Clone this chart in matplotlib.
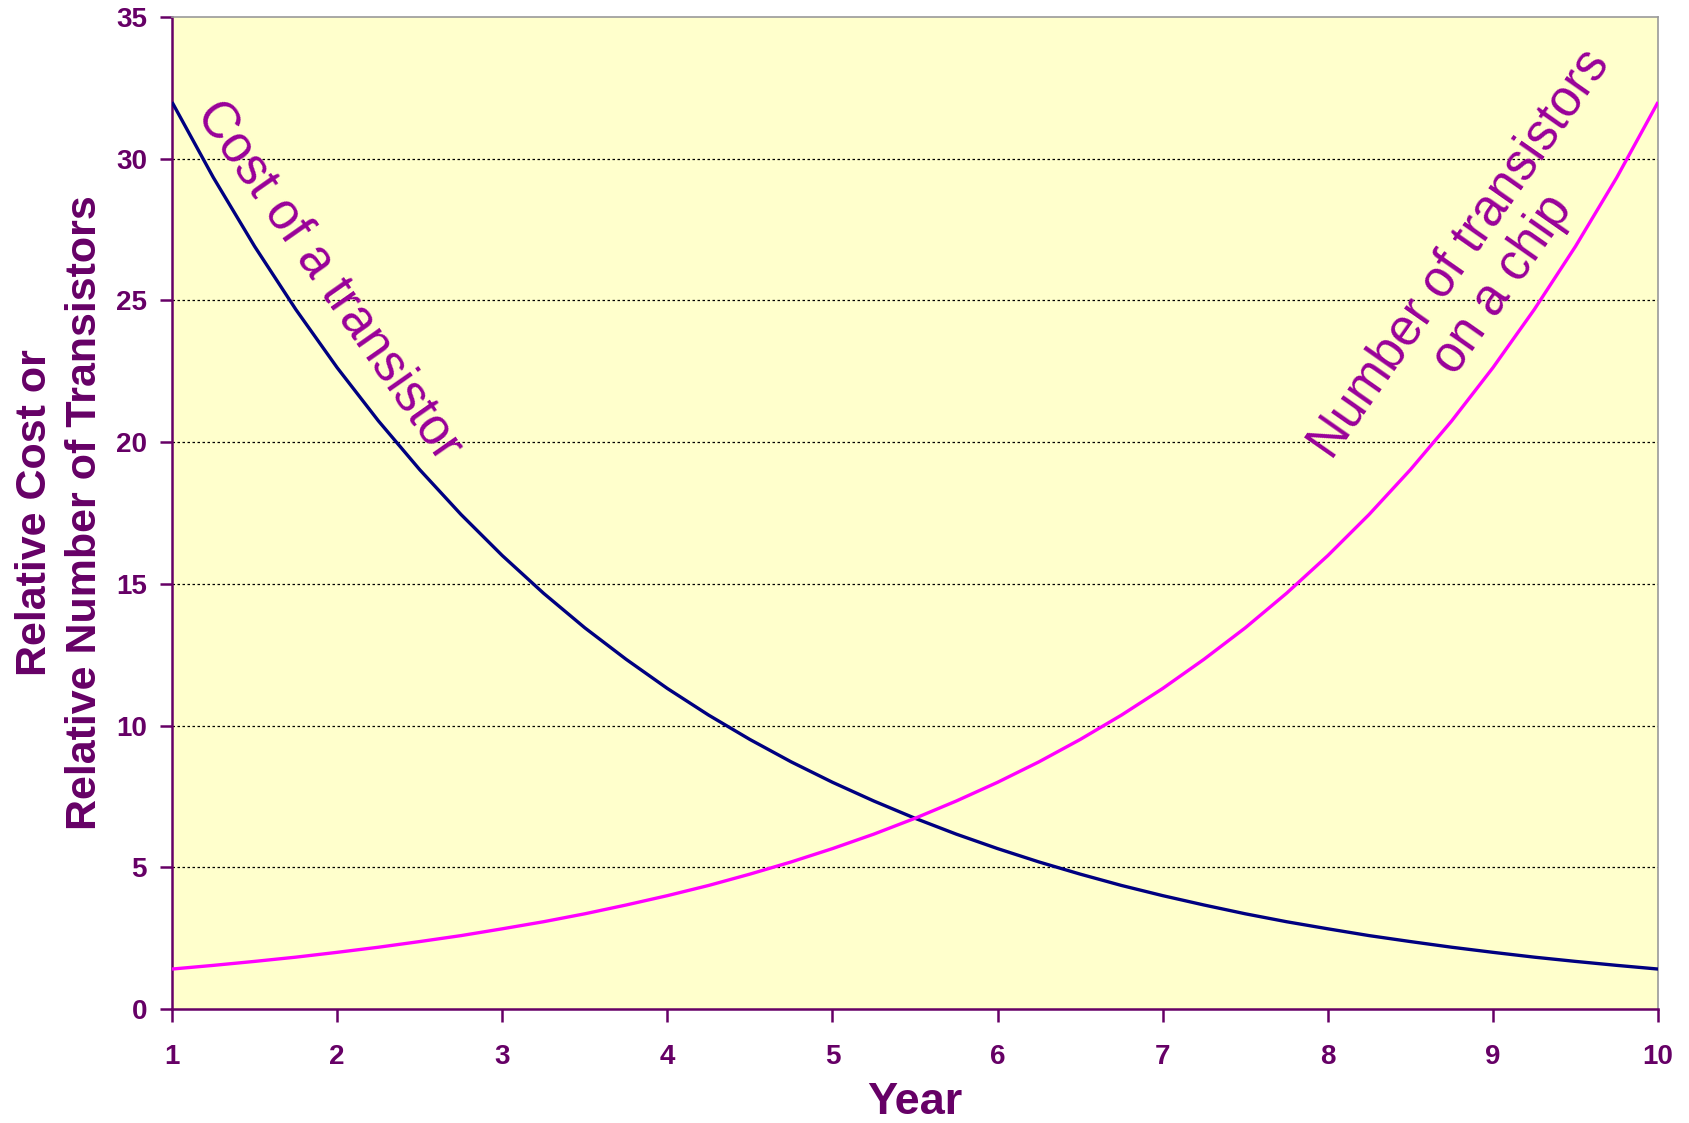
"""
Moore's law sketch: relative transistor cost falling while the number of
transistors on a chip rises, year 1 to year 10.

Output:
    out.png
"""
import matplotlib.pyplot as plt

# quarter-year samples, year 1 .. year 10
YEARS = [1.0, 1.25, 1.5, 1.75, 2.0, 2.25, 2.5, 2.75, 3.0, 3.25, 3.5, 3.75,
         4.0, 4.25, 4.5, 4.75, 5.0, 5.25, 5.5, 5.75, 6.0, 6.25, 6.5, 6.75,
         7.0, 7.25, 7.5, 7.75, 8.0, 8.25, 8.5, 8.75, 9.0, 9.25, 9.5, 9.75, 10.0]

COST = [32.0, 29.34, 26.91, 24.68, 22.63, 20.75, 19.03, 17.45, 16.0, 14.67,
        13.45, 12.34, 11.31, 10.37, 9.51, 8.72, 8.0, 7.34, 6.73, 6.17, 5.66,
        5.19, 4.76, 4.36, 4.0, 3.67, 3.36, 3.08, 2.83, 2.59, 2.38, 2.18, 2.0,
        1.83, 1.68, 1.54, 1.41]

N_TRANSISTORS = [1.41, 1.54, 1.68, 1.83, 2.0, 2.18, 2.38, 2.59, 2.83, 3.08,
                 3.36, 3.67, 4.0, 4.36, 4.76, 5.19, 5.66, 6.17, 6.73, 7.34,
                 8.0, 8.72, 9.51, 10.37, 11.31, 12.34, 13.45, 14.67, 16.0,
                 17.45, 19.03, 20.75, 22.63, 24.68, 26.91, 29.34, 32.0]

X_TICKS = [1, 2, 3, 4, 5, 6, 7, 8, 9, 10]
Y_TICKS = [0, 5, 10, 15, 20, 25, 30, 35]
GRID_Y = [5, 10, 15, 20, 25, 30]

PURPLE = "#660066"
NAVY = "#000080"
MAGENTA = "#FF00FF"
LABEL_MAGENTA = "#990099"
PLOT_BG = "#FFFFCC"

plt.rcParams["font.family"] = ["Liberation Sans", "DejaVu Sans"]

fig = plt.figure(figsize=(16.9, 11.23), dpi=100)
ax = fig.add_axes([0.1018, 0.1015, 0.8793, 0.8833])
ax.set_facecolor(PLOT_BG)

for y in GRID_Y:
    ax.axhline(y, color="black", linewidth=0.9, linestyle=(0, (2, 2)),
               zorder=1)

ax.plot(YEARS, COST, color=NAVY, linewidth=2.4, zorder=3,
        solid_capstyle="butt")
ax.plot(YEARS, N_TRANSISTORS, color=MAGENTA, linewidth=2.4, zorder=3,
        solid_capstyle="butt")

ax.set_xlim(1, 10)
ax.set_ylim(0, 35)
ax.set_xticks(X_TICKS)
ax.set_yticks(Y_TICKS)

ax.tick_params(axis="both", direction="out", length=9, width=1.8,
               color=PURPLE, labelcolor=PURPLE, labelsize=20)
ax.tick_params(axis="y", pad=9)
ax.tick_params(axis="x", pad=16)
for lab in ax.get_xticklabels() + ax.get_yticklabels():
    lab.set_fontweight("bold")

for side in ("left", "bottom"):
    ax.spines[side].set_color(PURPLE)
    ax.spines[side].set_linewidth(1.8)
for side in ("top", "right"):
    ax.spines[side].set_color("#999999")
    ax.spines[side].set_linewidth(1.2)

ax.set_xlabel("Year", fontsize=32.5, fontweight="bold", color=PURPLE,
              labelpad=9)
fig.text(0.0355, 0.5435, "Relative Cost or\nRelative Number of Transistors",
         rotation=90, ha="center", va="center", multialignment="center",
         fontsize=31, fontweight="bold", color=PURPLE, linespacing=1.3)

ax.text(1.95, 25.7, "Cost of a transistor", rotation=-55,
        rotation_mode="anchor", ha="center", va="center",
        fontsize=36.5, color=LABEL_MAGENTA)
ax.text(8.93, 26.1, "Number of transistors\non a chip", rotation=55,
        rotation_mode="anchor", ha="center", va="center",
        multialignment="center", fontsize=36.5, color=LABEL_MAGENTA,
        linespacing=1.1)

fig.savefig("out.png", dpi=100)
plt.close(fig)
